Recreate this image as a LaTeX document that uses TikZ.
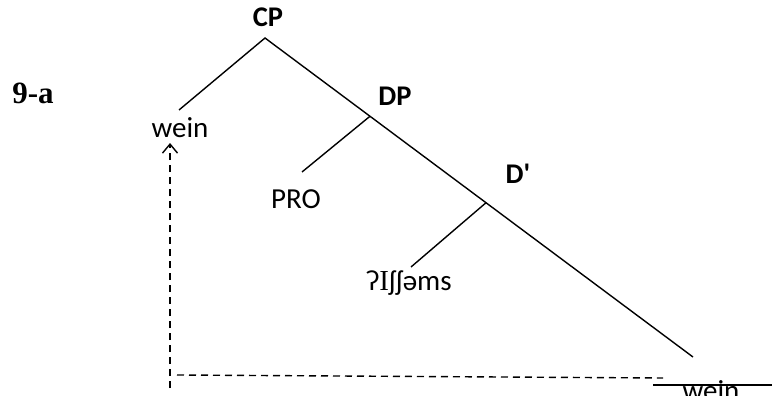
\documentclass[tikz,border=0pt]{standalone}
\usepackage{fontspec}
\setmainfont{Carlito}[Ligatures=TeXOff]
\newfontfamily\numfont{Liberation Serif}
\usetikzlibrary{arrows.meta,calc}
\tikzset{
  lbl/.style={inner sep=0pt, font=\fontsize{29}{32}\selectfont},
  blbl/.style={lbl, font=\fontsize{28.5}{32}\selectfont\bfseries},
  branch/.style={line width=1.4pt},
  mv/.style={line width=1.4pt, dash pattern=on 7pt off 5pt},
}
\begin{document}
\begin{tikzpicture}[x=1pt,y=-1pt]
\useasboundingbox (0,0) rectangle (772,396);
% labels
\node[inner sep=0pt, font=\fontsize{31}{33}\selectfont\numfont\bfseries, anchor=base] (ex) at (33,103) {9-a};
\node[blbl, anchor=base] (cp) at (268,27) {CP};
\node[blbl, anchor=base] (dp) at (395,106) {DP};
\node[blbl, anchor=base] (dbar) at (518,183) {D'};
\node[lbl, anchor=base] (wein1) at (180,138) {wein};
\node[lbl, anchor=base] (pro) at (296,208) {PRO};
\node[lbl, anchor=base] (nn) at (409,290) {ʔ{\numfont I}ʃʃəms};
\node[lbl, anchor=base] (wein2) at (711,400) {wein};
% tree points
\coordinate (top) at (265,38);
\coordinate (lw) at (179,110);
\coordinate (bottom) at (693,357);
\coordinate (dpp) at ($(top)!0.2453!(bottom)$);
\coordinate (dbp) at ($(top)!0.5164!(bottom)$);
\coordinate (prop) at (302,172);
\coordinate (nnp) at (411,267);
\draw[branch] (lw) -- (top) -- (bottom);
\draw[branch] (dpp) -- (prop);
\draw[branch] (dbp) -- (nnp);
% movement
\coordinate (a0) at (170,388);
\coordinate (a1) at (170,143);
\coordinate (h0) at (177,375);
\coordinate (h1) at (663,378);
\coordinate (s0) at (653,385);
\coordinate (s1) at (772,385);
\draw[mv, -{Straight Barb[length=9pt,width=15pt,line width=1.4pt]}] (a0) -- (a1);
\draw[mv] (h0) -- (h1);
\draw[branch] (s0) -- (s1);
\end{tikzpicture}
\end{document}
